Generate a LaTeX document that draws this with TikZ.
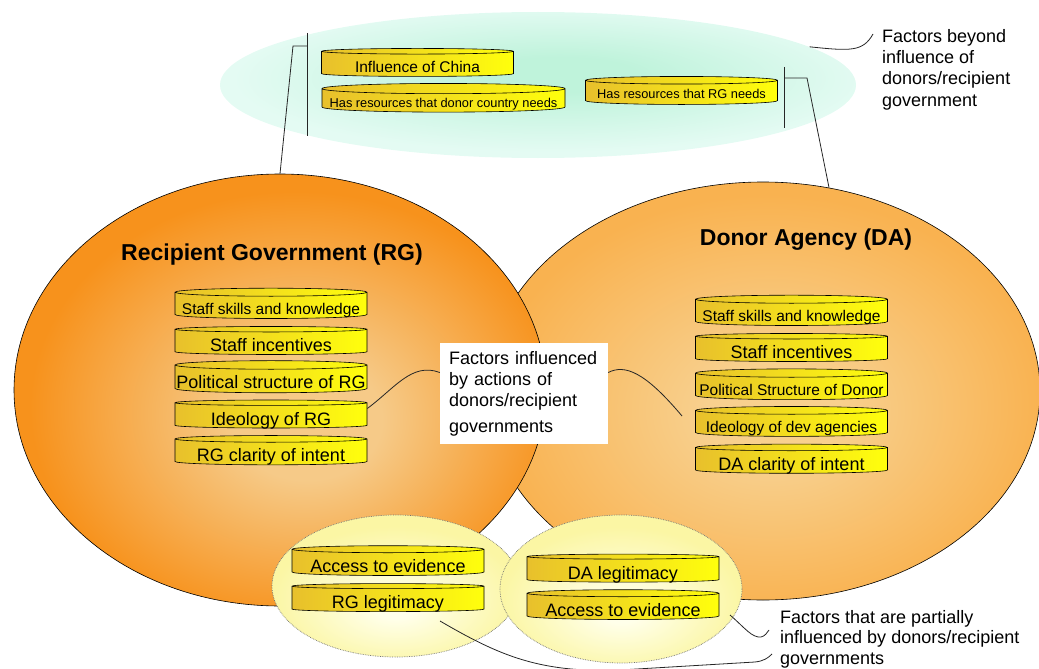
\documentclass[tikz,border=0pt]{standalone}
\usepackage{fontspec}
\setmainfont{Liberation Sans}
\usetikzlibrary{shapes.geometric}

\definecolor{mintin}{HTML}{BFF3DB}
\definecolor{mintout}{HTML}{E4FBF3}
\definecolor{rgin}{HTML}{F6CA88}
\definecolor{rgout}{HTML}{F7921C}
\definecolor{dain}{HTML}{F8D08E}
\definecolor{daout}{HTML}{F9B250}
\definecolor{palein}{HTML}{FFFFEA}
\definecolor{paleout}{HTML}{FBF6A4}
\definecolor{drumgold}{HTML}{E8C02C}
\definecolor{drumyellow}{HTML}{FFFF0C}

\pgfdeclareradialshading{mintshade}{\pgfpoint{2bp}{4bp}}{color(0bp)=(mintin); color(6bp)=(mintin); color(25bp)=(mintout); color(50bp)=(mintout)}
\pgfdeclareradialshading{rgshade}{\pgfpoint{3bp}{-4bp}}{color(0bp)=(rgin); color(7bp)=(rgin); color(25bp)=(rgout); color(50bp)=(rgout)}
\pgfdeclareradialshading{dashade}{\pgfpoint{1bp}{-3bp}}{color(0bp)=(dain); color(6bp)=(dain); color(25bp)=(daout); color(50bp)=(daout)}
\pgfdeclareradialshading{paleshade}{\pgfpoint{0bp}{-8bp}}{color(0bp)=(palein); color(4bp)=(palein); color(25bp)=(paleout); color(50bp)=(paleout)}

\begin{document}
\begin{tikzpicture}[x=1pt,y=-1pt]
\tikzstyle{every node}+=[inner sep=0pt]
\tikzstyle{blob}=[ellipse, line width=0.6pt, shade]
\tikzstyle{smallblob}=[ellipse, shade, shading=paleshade, draw=black!55, densely dotted, line width=0.7pt]
\tikzstyle{drum}=[cylinder, shape border rotate=90, aspect=0.045, draw=black, line width=0.6pt, left color=drumgold, right color=drumyellow, minimum width=192pt, minimum height=28pt, text depth=0pt]
\tikzstyle{txtA}=[font=\fontsize{18}{21}\selectfont, text height=19pt]
\tikzstyle{txtB}=[font=\fontsize{15.5}{18}\selectfont, text height=18pt]
\tikzstyle{txtC}=[font=\fontsize{12.8}{15}\selectfont, text height=13pt]
\tikzstyle{lbl}=[font=\fontsize{18}{21.3}\selectfont, align=left, anchor=north west]
\tikzstyle{title}=[font=\fontsize{23}{27}\selectfont\bfseries, anchor=base]
\tikzstyle{link}=[line width=0.8pt, black!85]
\useasboundingbox (0,0) rectangle (1039,669);
\node[blob, shading=mintshade, minimum width=636pt, minimum height=146pt] (topell) at (538,85) {};
\node[blob, draw, shading=dashade, minimum width=554pt, minimum height=418pt] (daell) at (763,391) {};
\node[blob, draw, shading=rgshade, minimum width=532pt, minimum height=432pt] (rgell) at (280,390) {};
\node[smallblob, minimum width=248pt, minimum height=142pt] (rgsmall) at (396,586) {};
\node[smallblob, minimum width=242pt, minimum height=148pt] (dasmall) at (621,589) {};
\node[drum, txtB] (china) at (417.5,64) {Influence of China};
\node[drum, txtC, minimum width=243pt] (donorres) at (443.5,100.5) {Has resources that donor country needs};
\node[drum, txtC] (rgres) at (681.5,92.5) {Has resources that RG needs};
\node[drum, txtB] (rgskill) at (271,305.5) {Staff skills and knowledge};
\node[drum, txtA] (rgincent) at (271,342) {Staff incentives};
\node[drum, txtA] (rgpolit) at (271,379) {Political structure of RG};
\node[drum, txtA] (rgideo) at (271,415.5) {Ideology of RG};
\node[drum, txtA] (rgclar) at (271,452) {RG clarity of intent};
\node[drum, txtB] (daskill) at (791.5,312.5) {Staff skills and knowledge};
\node[drum, txtA] (daincent) at (791.5,349) {Staff incentives};
\node[drum, txtB] (dapolit) at (791.5,386.5) {Political Structure of Donor};
\node[drum, txtB] (daideo) at (791.5,423.5) {Ideology of dev agencies};
\node[drum, txtA] (daclar) at (791.5,460.5) {DA clarity of intent};
\node[drum, txtA] (accrg) at (388,562.5) {Access to evidence};
\node[drum, txtA] (rglegit) at (388,599) {RG legitimacy};
\node[drum, txtA] (dalegit) at (623,569.5) {DA legitimacy};
\node[drum, txtA] (accda) at (623,606.5) {Access to evidence};
\node[title] (rgtitle) at (272,260) {Recipient Government (RG)};
\node[title] (datitle) at (806,245) {Donor Agency (DA)};
\node[lbl] (beyondlbl) at (882,29) {Factors beyond\\influence of\\donors/recipient\\government};
\node[fill=white, minimum width=168pt, minimum height=101pt, text width=150pt, inner xsep=9pt, align=left, font=\fontsize{18}{21}\selectfont] (actlbl) at (524,393.5) {Factors influenced\\by actions of\\donors/recipient\\[5pt]governments};
\node[lbl, font=\fontsize{18}{20.5}\selectfont] (partlbl) at (780,610) {Factors that are partially\\influenced by donors/recipient\\governments};
\coordinate (lbrktop) at (307,33);
\coordinate (lbrkbot) at (307,136);
\coordinate (lbrkmid) at (307,46);
\coordinate (lbrkend) at (293,46);
\coordinate (rbrktop) at (784,67);
\coordinate (rbrkbot) at (784,128);
\coordinate (rbrkmid) at (784,78);
\coordinate (rbrkend) at (807,78);
\coordinate (beyondtip) at (873,34);
\coordinate (ideotip) at (682,416);
\coordinate (legtip) at (440,621);
\coordinate (parttip) at (772,654);
\coordinate (acctip) at (730,615);
\coordinate (accend) at (769,630);
\draw[link] (lbrktop) -- (lbrkbot);
\draw[link] (lbrkmid) -- (lbrkend) -- (rgell.north);
\draw[link] (rbrktop) -- (rbrkbot);
\draw[link] (rbrkmid) -- (rbrkend) -- (daell.72);
\draw[link] (topell.8) .. controls (850,51) and (863,52) .. (beyondtip);
\draw[link] ([yshift=7pt]rgideo.east) .. controls (395,388) and (412,362) .. ([yshift=21pt]actlbl.west);
\draw[link] ([yshift=21pt]actlbl.east) .. controls (625,364) and (645,372) .. (ideotip);
\draw[link] (legtip) .. controls (500,656) and (540,673) .. (620,670) -- (755,662) .. controls (764,661) and (768,658) .. (parttip);
\draw[link] (acctip) .. controls (745,628) and (752,638) .. (761,637) .. controls (765,636) and (767,633) .. (accend);
\end{tikzpicture}
\end{document}
